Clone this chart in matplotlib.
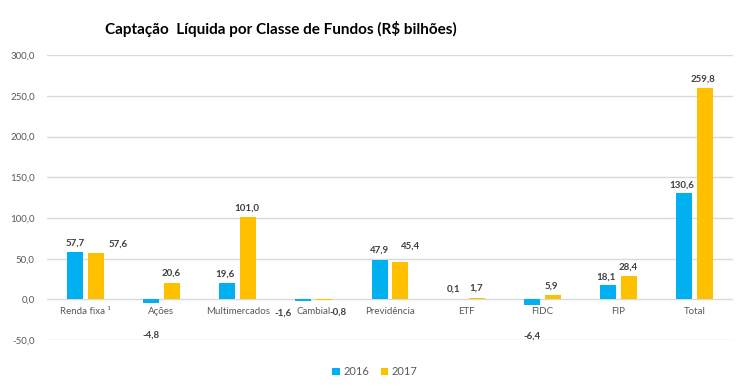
import matplotlib.pyplot as plt
import numpy as np

plt.rcParams['font.family'] = ['Lato', 'DejaVu Sans']

categories = ['Renda fixa \u00b9', 'Ações', 'Multimercados', 'Cambial', 'Previdência',
              'ETF', 'FIDC', 'FIP', 'Total']
v2016 = [57.7, -4.8, 19.6, -1.6, 47.9, 0.1, -6.4, 18.1, 130.6]
v2017 = [57.6, 20.6, 101.0, -0.8, 45.4, 1.7, 5.9, 28.4, 259.8]
years = ['2016', '2017']
colors = ['#00B0F0', '#FFC000']

# label offsets in pixels (dx, dy) from the bar end, Excel placed a few oddly
off2016 = [(0, 9), (0, -32), (-2, 9), (-20, -12), (0, 10), (-2, 10), (0, -31), (-2, 8), (-2, 8)]
off2017 = [(22, 8), (-1, 10), (-1, 9), (14, -12), (10, 16), (0, 10), (-1, 9), (-1, 9), (-2, 9)]

fig = plt.figure(figsize=(7.5, 3.91), dpi=100)
ax = fig.add_axes([0.063, 0.130, 0.914, 0.729])

x = np.arange(len(categories))
width = 0.21
gap = 0.137

bars1 = ax.bar(x - gap, v2016, width, color=colors[0], label=years[0], zorder=3)
bars2 = ax.bar(x + gap, v2017, width, color=colors[1], label=years[1], zorder=3)

def fmt(v):
    return f'{v:.1f}'.replace('.', ',')

for bars, vals, offs in [(bars1, v2016, off2016), (bars2, v2017, off2017)]:
    for b, v, (dx, dy) in zip(bars, vals, offs):
        ax.annotate(fmt(v), (b.get_x() + b.get_width() / 2, v), xytext=(dx, dy),
                    textcoords='offset pixels', ha='center', va='center',
                    fontsize=7, fontweight='bold', color='#404040', zorder=4)

for i, c in enumerate(categories):
    ax.annotate(c, (i, 0), xytext=(0, -12), textcoords='offset pixels',
                ha='center', va='center', fontsize=7, color='#595959')

ax.set_xlim(-0.5, len(categories) - 0.5)
ax.set_ylim(-50, 300)
ax.set_yticks(np.arange(-50, 301, 50))
ax.set_yticklabels([fmt(t) for t in np.arange(-50, 301, 50)], fontsize=7, color='#595959')
ax.set_xticks([])
ax.tick_params(axis='y', length=0, pad=9)
ax.grid(axis='y', color='#D9D9D9', linewidth=1, zorder=0)
for s in ax.spines.values():
    s.set_visible(False)

fig.text(0.375, 0.926, 'Captação  Líquida por Classe de Fundos (R$ bilhões)',
         ha='center', va='center', fontsize=11, fontweight='bold', color='black')

fig.legend(handles=[bars1, bars2], loc='center', bbox_to_anchor=(0.5, 0.049), ncol=2,
           frameon=False, fontsize=8, handlelength=0.7, handleheight=0.7,
           handletextpad=0.3, columnspacing=1.0, labelcolor='#595959')

fig.savefig('out.png', dpi=100)
